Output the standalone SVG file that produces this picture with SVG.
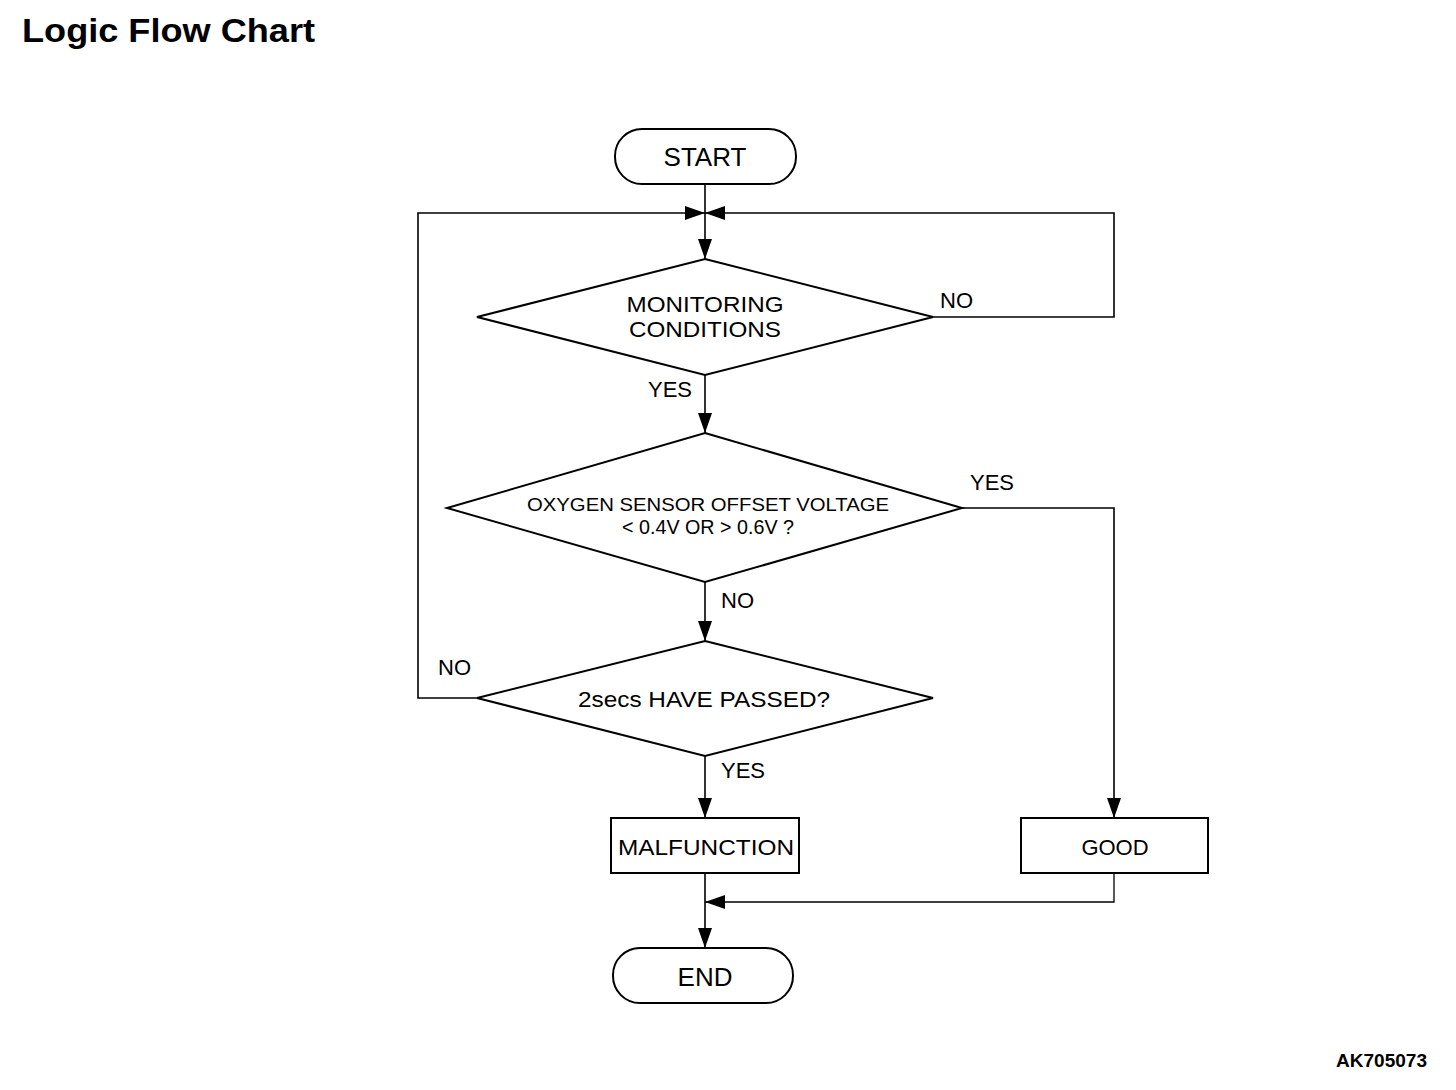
<svg xmlns="http://www.w3.org/2000/svg" width="1456" height="1090" viewBox="0 0 1456 1090">
<defs>
<style>
.shape{fill:#fff;stroke:#000;stroke-width:2}
.conn{fill:none;stroke:#000;stroke-width:1.6}
.t{font-family:"Liberation Sans",Arial,sans-serif;fill:#000;text-anchor:middle}
.lbl{font-family:"Liberation Sans",Arial,sans-serif;fill:#000;font-size:22px}
</style>
<marker id="ah" viewBox="0 0 20 14" refX="20" refY="7" markerWidth="20" markerHeight="14" markerUnits="userSpaceOnUse" orient="auto">
<path d="M0,0 L20,7 L0,14 Z" fill="#000"/>
</marker>
</defs>
<rect width="1456" height="1090" fill="#fff"/>
<text x="22" y="42" font-family="Liberation Sans,Arial,sans-serif" font-weight="bold" font-size="34" fill="#000" textLength="293" lengthAdjust="spacingAndGlyphs">Logic Flow Chart</text>
<text x="1427" y="1067" font-family="Liberation Sans,Arial,sans-serif" font-weight="bold" font-size="18" text-anchor="end" fill="#000" textLength="91" lengthAdjust="spacingAndGlyphs">AK705073</text>

<g id="connectors">
<path class="conn" d="M705,184 V259" marker-end="url(#ah)"/>
<path class="conn" d="M477,698 H418 V213 H705" marker-end="url(#ah)"/>
<path class="conn" d="M933,317 H1114 V213 H705" marker-end="url(#ah)"/>
<path class="conn" d="M705,375 V433" marker-end="url(#ah)"/>
<path class="conn" d="M962,508 H1114 V818" marker-end="url(#ah)"/>
<path class="conn" d="M705,582 V641" marker-end="url(#ah)"/>
<path class="conn" d="M705,756 V818" marker-end="url(#ah)"/>
<path class="conn" d="M705,873 V948" marker-end="url(#ah)"/>
<path class="conn" d="M1114,873 V902 H705" marker-end="url(#ah)" style="stroke-width:1.3"/>
<text class="lbl" x="940" y="308">NO</text>
<text class="lbl" x="648" y="397">YES</text>
<text class="lbl" x="970" y="490">YES</text>
<text class="lbl" x="721" y="608">NO</text>
<text class="lbl" x="438" y="675">NO</text>
<text class="lbl" x="721" y="778">YES</text>
</g>

<g id="start">
<rect class="shape" x="615" y="129" width="181" height="55" rx="27" ry="27"/>
<text class="t" x="705" y="166" font-size="26">START</text>
</g>
<g id="monitoring">
<polygon class="shape" points="705,259 933,317 705,375 477,317"/>
<text class="t" x="705" y="312" font-size="22" textLength="157" lengthAdjust="spacingAndGlyphs">MONITORING</text>
<text class="t" x="705" y="337" font-size="22" textLength="152" lengthAdjust="spacingAndGlyphs">CONDITIONS</text>
</g>
<g id="oxygen">
<polygon class="shape" points="705,433 962,508 705,582 447,508"/>
<text class="t" x="708" y="511" font-size="19" textLength="362" lengthAdjust="spacingAndGlyphs">OXYGEN SENSOR OFFSET VOLTAGE</text>
<text class="t" x="708" y="534" font-size="20" textLength="172" lengthAdjust="spacingAndGlyphs">&lt; 0.4V OR &gt; 0.6V ?</text>
</g>
<g id="passed">
<polygon class="shape" points="705,641 933,698 705,756 477,698"/>
<text class="t" x="704" y="707" font-size="22" textLength="252" lengthAdjust="spacingAndGlyphs">2secs HAVE PASSED?</text>
</g>
<g id="malfunction">
<rect class="shape" x="611" y="818" width="188" height="55"/>
<text class="t" x="706" y="855" font-size="22" textLength="176" lengthAdjust="spacingAndGlyphs">MALFUNCTION</text>
</g>
<g id="good">
<rect class="shape" x="1021" y="818" width="187" height="55"/>
<text class="t" x="1115" y="855" font-size="22">GOOD</text>
</g>
<g id="end">
<rect class="shape" x="613" y="948" width="180" height="55" rx="27" ry="27"/>
<text class="t" x="705" y="986" font-size="26">END</text>
</g>
</svg>
